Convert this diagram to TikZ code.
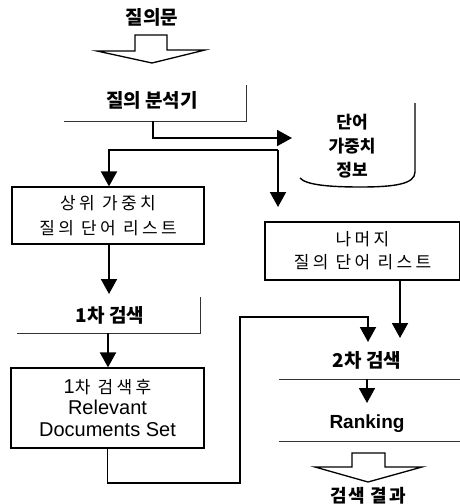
\documentclass[tikz,border=0pt]{standalone}
\usepackage{fontspec}
\setmainfont{Liberation Sans}
\newfontfamily\kr{Noto Sans CJK KR}
\newfontfamily\krs{Noto Sans CJK KR}[LetterSpace=20]
\newfontfamily\krw{Noto Sans CJK KR}[LetterSpace=10]
\usetikzlibrary{arrows.meta}
\tikzset{
  conn/.style={line width=1.9pt, -{Triangle[width=16pt,length=15pt]}},
  under/.style={line width=0.9pt, black!80},
  boxnode/.style={draw, line width=1.2pt, inner sep=0pt, align=center},
  title/.style={font=\kr\bfseries\fontsize{19}{19}\selectfont, inner sep=0pt},
  hollow/.style={line width=1.3pt, line join=miter},
}
\begin{document}
\begin{tikzpicture}[x=1pt,y=-1pt]
\useasboundingbox (0,0) rectangle (459,504);

% query
\node[title] (q) at (152,17) {질의문};
\draw[hollow] (135,35) -- (167,35) -- (167,50) -- (205,50) -- (152,63) -- (97,51) -- (135,51) -- cycle;

% analyzer
\node[title] (ana) at (152,100) {질의 분석기};
\coordinate (anaL) at (64,121);
\coordinate (anaR) at (246,121);
\coordinate (anaT) at (246,85);
\draw[under] (anaL) -- (anaR) -- (anaT);
\coordinate (anaOut) at (153,121);

% weight info store
\node[font=\kr\bfseries\fontsize{17}{24}\selectfont, align=center, inner sep=0pt] (db) at (352,146) {단어\\가중치\\정보};
\draw[line width=1.4pt] (415,103) -- (415,172) .. controls (415,184) and (395,187) .. (360,187) .. controls (330,187) and (306,185) .. (300,178);
\coordinate (dbin) at (292,138);
\draw[conn] (anaOut) |- (dbin);

% split
\coordinate (s1) at (109,150);
\coordinate (s2) at (278,150);
\coordinate (t2) at (278,207);

% top-weight list
\node[boxnode, minimum width=192pt, minimum height=57pt, font=\krs\fontsize{17}{25}\selectfont] (topl) at (108,215.5) {상위 가중치\\질의 단어 리스트};
\draw[conn] (s2) -- (s1) -- (s1 |- topl.north);
\draw[conn] (s2) -- (t2);

% first search
\coordinate (a1) at (109,294);
\draw[conn] (topl.south -| a1) -- (a1);
\node[title] (srch1) at (110,315) {1차 검색};
\coordinate (u1L) at (17,333);
\coordinate (u1R) at (200,333);
\coordinate (u1T) at (200,297);
\draw[under] (u1L) -- (u1R) -- (u1T);
\coordinate (u1o) at (108,333);

% relevant set
\node[boxnode, minimum width=193pt, minimum height=80pt, font=\fontsize{20}{21.5}\selectfont] (rel) at (107.5,408) {1{\krs\fontsize{17}{21.5}\selectfont 차 검색후}\\Relevant\\Documents Set};
\draw[conn] (u1o) -- (u1o |- rel.north);

% rest list
\node[boxnode, minimum width=195pt, minimum height=58pt, font=\krs\fontsize{17}{23}\selectfont] (rest) at (362.5,251) {나머지\\질의 단어 리스트};

% feedback path
\coordinate (c2) at (240,483);
\coordinate (c3) at (240,317);
\coordinate (t3) at (368,342);
\draw[conn] (rel.south) |- (c2) -- (c3) -| (t3);

\coordinate (t4) at (400,338);
\draw[conn] (rest.south -| t4) -- (t4);

% second search
\node[title] (srch2) at (367,360) {2차 검색};
\coordinate (u2L) at (279,379);
\coordinate (u2R) at (462,379);
\draw[under] (u2L) -- (u2R);
\coordinate (u2o) at (367,379);
\coordinate (t5) at (367,403);
\draw[conn] (u2o) -- (t5);

% ranking
\node[font=\bfseries\fontsize{19}{19}\selectfont, inner sep=0pt] (rank) at (367,424) {Ranking};
\coordinate (u3L) at (279,441);
\coordinate (u3R) at (462,441);
\draw[under] (u3L) -- (u3R);

% result
\draw[hollow] (352,453) -- (385,453) -- (385,467) -- (422,467) -- (368,482) -- (315,467) -- (352,467) -- cycle;
\node[font=\krw\bfseries\fontsize{18}{18}\selectfont, inner sep=0pt] (res) at (368,496) {검색 결과};
\end{tikzpicture}
\end{document}
